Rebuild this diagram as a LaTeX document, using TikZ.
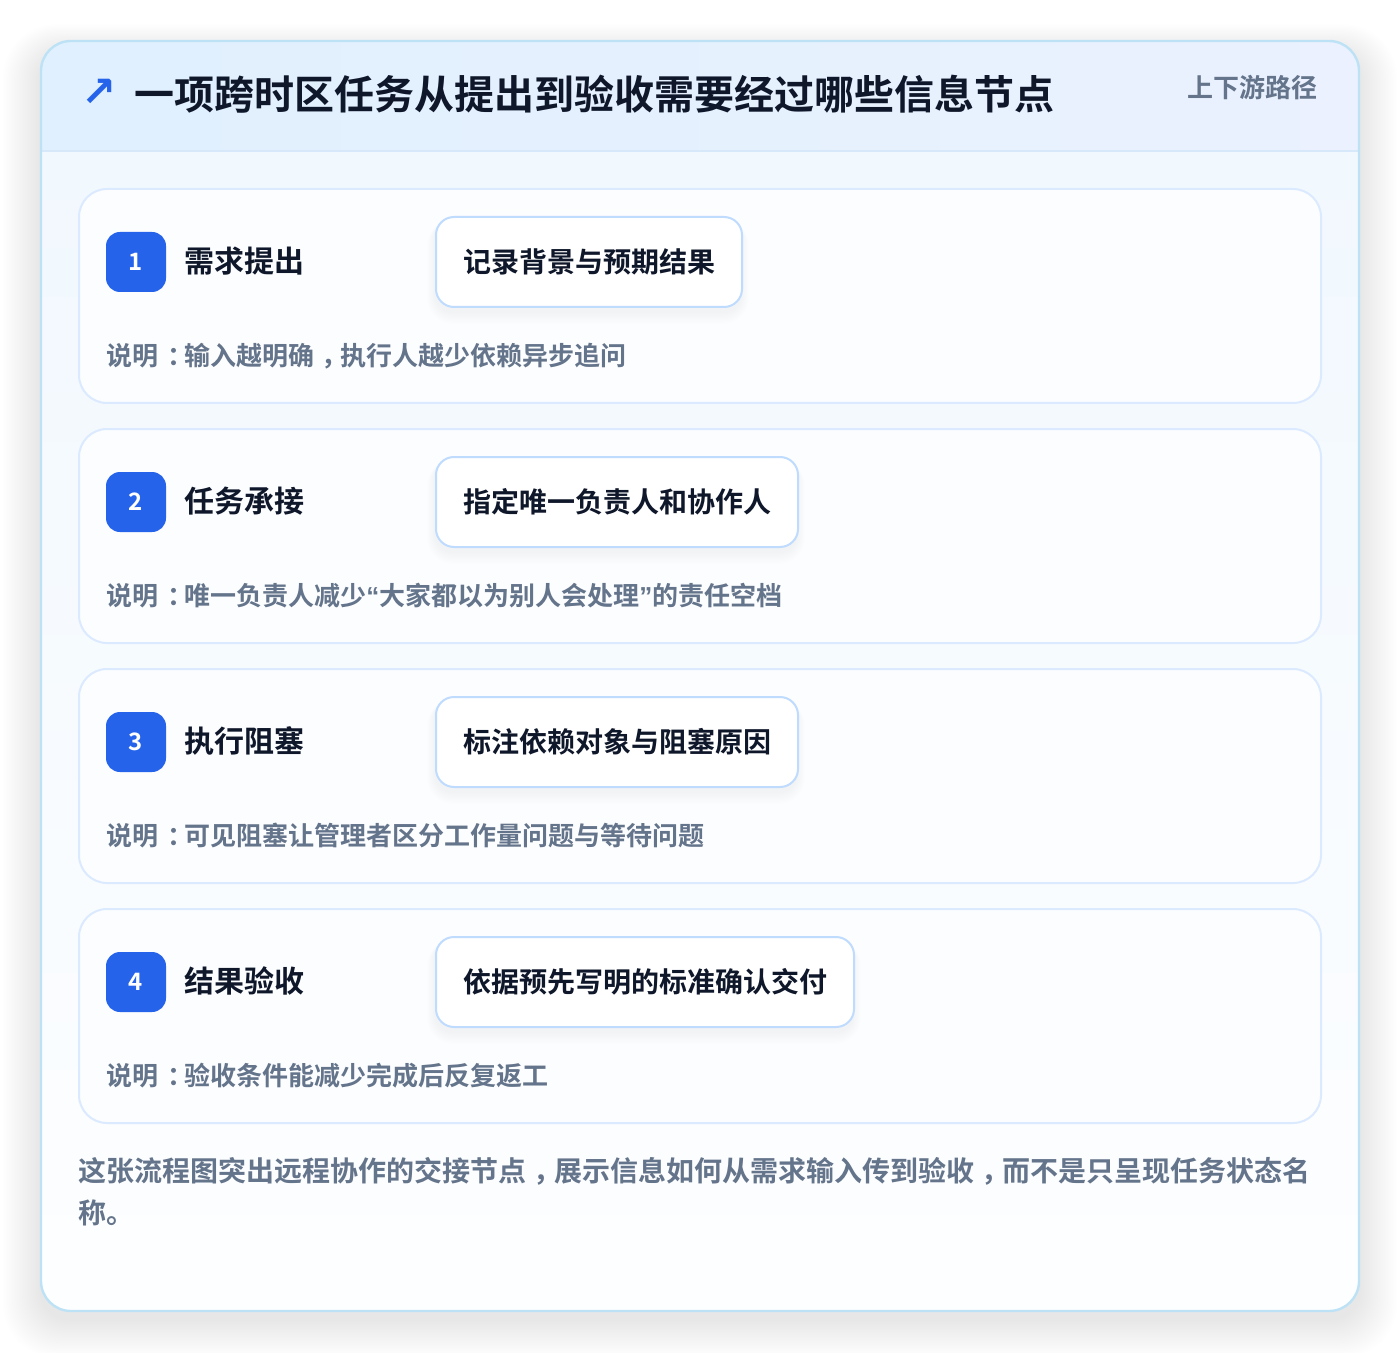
\documentclass[tikz,border=0pt]{standalone}
\usepackage{fontspec}
\setmainfont{Noto Sans CJK SC}[BoldFont={Noto Sans CJK SC Bold}]
\newfontfamily\symfont{DejaVu Sans}[BoldFont={DejaVu Sans Bold}]
\newfontfamily\quotefont{Liberation Sans}[BoldFont={Liberation Sans Bold}]
\newcommand\cpunct[1]{\kern0.36em#1\kern-0.36em}
\newcommand\ccomma{\kern0.26em，\kern-0.26em}
\newcommand\myopenq{{\quotefont\bfseries “}}
\newcommand\mycloseq{{\quotefont\bfseries ”}}
\definecolor{outerborder}{RGB}{189,226,246}
\definecolor{headl}{RGB}{224,240,254}
\definecolor{headr}{RGB}{235,241,254}
\definecolor{headline}{RGB}{214,232,250}
\definecolor{bodytop}{RGB}{241,248,254}
\definecolor{bodybot}{RGB}{253,254,255}
\definecolor{cardborder}{RGB}{219,234,254}
\definecolor{cardfill}{RGB}{252,253,255}
\definecolor{badgeblue}{RGB}{37,99,235}
\definecolor{titlecol}{RGB}{15,23,42}
\definecolor{muted}{RGB}{100,116,139}
\definecolor{pillborder}{RGB}{191,219,254}
\tikzset{
  stepcard/.style={draw=cardborder, line width=1pt, fill=cardfill, rounded corners=14pt},
  badge/.style={fill=badgeblue, rounded corners=7pt, minimum width=30pt, minimum height=30pt, inner sep=0pt, text=white, font=\fontsize{12pt}{14pt}\selectfont\bfseries},
  steptitle/.style={anchor=west, inner sep=0pt, text=titlecol, font=\fontsize{15pt}{18pt}\selectfont\bfseries},
  pill/.style={anchor=west, draw=pillborder, line width=1pt, fill=white, rounded corners=9pt, minimum height=45pt, inner xsep=13.5pt, text=titlecol, font=\fontsize{14pt}{17pt}\selectfont\bfseries},
  notetext/.style={anchor=west, inner sep=0pt, text=muted, font=\fontsize{13pt}{16pt}\selectfont\bfseries},
  foottext/.style={anchor=west, inner sep=0pt, text=muted, font=\fontsize{14pt}{17pt}\selectfont\bfseries},
}
\begin{document}
\begin{tikzpicture}[x=0.5pt,y=-0.5pt]
\useasboundingbox (0,0) rectangle (1400,1352);
\fill[white] (0,0) rectangle (1400,1352);
% soft shadow of outer card
\foreach \k in {1,...,24} {
  \fill[black, opacity=0.0035, rounded corners=15pt+\k*0.5pt] (41-1.6*\k,41-1.2*\k+12) rectangle (1359+1.6*\k,1311+1.6*\k+8);
}
% outer card
\path[fill=bodybot, rounded corners=15pt] (41,41) rectangle (1359,1311);
\begin{scope}
  \clip[rounded corners=15pt] (41,41) rectangle (1359,1311);
  \shade[top color=bodytop, bottom color=bodybot] (41,151) rectangle (1359,1311);
  \shade[left color=headl, right color=headr] (41,41) rectangle (1359,151);
  \draw[headline, line width=1pt] (41,151) -- (1359,151);
\end{scope}
\draw[outerborder, line width=1.2pt, rounded corners=15pt] (41,41) rectangle (1359,1311);
% header
\node[anchor=center, inner sep=0pt, text=badgeblue, font=\symfont\fontsize{21pt}{24pt}\selectfont\bfseries] (arrow) at (99,93) {↗};
\node[anchor=west, inner sep=0pt, text=titlecol, font=\fontsize{20pt}{24pt}\selectfont\bfseries] (title) at (134,94) {一项跨时区任务从提出到验收需要经过哪些信息节点};
\node[anchor=east, inner sep=0pt, text=muted, font=\fontsize{13pt}{16pt}\selectfont\bfseries] (tag) at (1318,88) {上下游路径};
% steps
\foreach \i/\t/\p/\w/\n in {
  1/{需求提出}/{记录背景与预期结果}/306/{说明\cpunct{：}输入越明确\ccomma 执行人越少依赖异步追问},
  2/{任务承接}/{指定唯一负责人和协作人}/362/{说明\cpunct{：}唯一负责人减少\myopenq 大家都以为别人会处理\mycloseq 的责任空档},
  3/{执行阻塞}/{标注依赖对象与阻塞原因}/362/{说明\cpunct{：}可见阻塞让管理者区分工作量问题与等待问题},
  4/{结果验收}/{依据预先写明的标准确认交付}/418/{说明\cpunct{：}验收条件能减少完成后反复返工}} {
  \pgfmathsetmacro{\off}{240*(\i-1)}
  \path[stepcard] (79,189+\off) rectangle (1321,403+\off);
  % pill shadow
  \foreach \s in {1,...,10} {
    \fill[black, opacity=0.005, rounded corners=9pt+\s*0.4pt] (435-0.8*\s,217+\off+3) rectangle (435+\w+0.8*\s,307+\off+1.2*\s+5);
  }
  \node[badge] (badge\i) at (136,262+\off) {\i};
  \node[steptitle] (title\i) at (184,261+\off) {\t};
  \node[pill] (pill\i) at (435,262+\off) {\p};
  \node[notetext] (note\i) at (106,356+\off) {\n};
}
% footer
\node[foottext] (foot1) at (78,1171) {这张流程图突出远程协作的交接节点\ccomma 展示信息如何从需求输入传到验收\ccomma 而不是只呈现任务状态名};
\node[foottext] (foot2) at (78,1213) {称。};
\end{tikzpicture}
\end{document}
